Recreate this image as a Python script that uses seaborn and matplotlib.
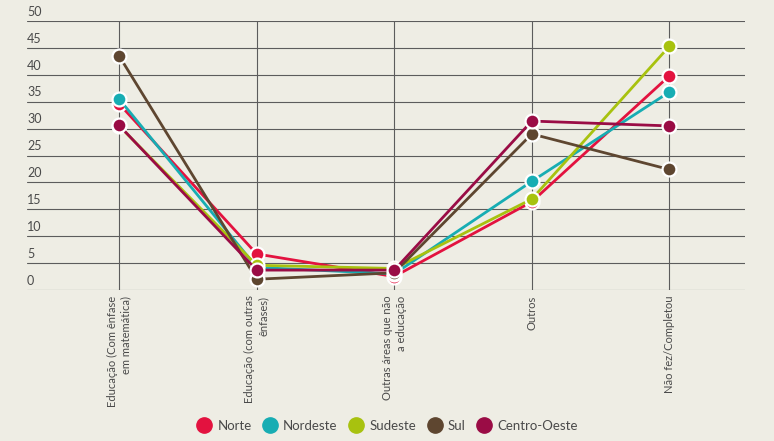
import pandas as pd
import matplotlib.pyplot as plt
from matplotlib.lines import Line2D
import seaborn as sns

# Data
categorias = ['Educação (Com ênfase\nem matemática)',
              'Educação (com outras\nênfases)',
              'Outras áreas que não\na educação',
              'Outros',
              'Não fez/Completou']
regioes = ['Norte', 'Nordeste', 'Sudeste', 'Sul', 'Centro-Oeste']

norte = [34.6, 6.7, 2.5, 16.4, 39.8]
nordeste = [35.5, 4.2, 3.0, 20.2, 36.8]
sudeste = [30.5, 4.6, 4.0, 16.9, 45.3]
sul = [43.5, 2.0, 3.2, 29.0, 22.4]
centro_oeste = [30.6, 3.7, 3.7, 31.4, 30.5]

cores = ['#e3123f', '#17adb3', '#a8c20f', '#5e4630', '#9a0c45']
y_ticks = list(range(0, 55, 5))

bg = '#eeede4'
grid = '#5c5c5c'
txt = '#4a4a4a'

sns.set_theme(style='white')
plt.rcParams['font.family'] = ['Lato', 'DejaVu Sans']

rows = []
for nome, vals in zip(regioes, [norte, nordeste, sudeste, sul, centro_oeste]):
    for i, v in enumerate(vals):
        rows.append({'pos': i, 'valor': v, 'regiao': nome})
df = pd.DataFrame(rows)

fig = plt.figure(figsize=(7.74, 4.41), dpi=100, facecolor=bg)
ax = fig.add_axes([27 / 774, 1 - 290 / 441, (745 - 27) / 774, (290 - 21) / 441])
ax.set_facecolor(bg)

# grid lines
for t in y_ticks:
    ax.axhline(t, color=grid, lw=0.8, zorder=0)
for i in range(len(categorias)):
    ax.axvline(i, color=grid, lw=0.8, zorder=0)

sns.lineplot(data=df, x='pos', y='valor', hue='regiao', hue_order=regioes,
             palette=cores, marker='o', markersize=10, markeredgecolor='white',
             markeredgewidth=1.6, linewidth=2, sort=False, legend=False,
             ax=ax, zorder=3)

ax.set_xlim(-0.67, 4.55)
ax.set_ylim(0, 50)
for s in ax.spines.values():
    s.set_visible(False)

ax.set_xticks(range(len(categorias)))
ax.set_xticklabels(categorias, rotation=90, va='top', ha='center',
                   multialignment='right', fontsize=8, color=txt,
                   linespacing=1.3)
ax.tick_params(axis='x', length=0, pad=4)
ax.set_yticks([])
ax.set_xlabel('')
ax.set_ylabel('')

# y labels sit above each grid line at the left
for t in y_ticks:
    ax.text(0.0, t + 0.6, str(t), transform=ax.get_yaxis_transform(),
            ha='left', va='bottom', fontsize=9, color=txt)

handles = [Line2D([], [], ls='none', marker='o', markersize=11,
                  markerfacecolor=c, markeredgecolor=c) for c in cores]
fig.legend(handles, regioes, loc='center', bbox_to_anchor=(0.5, 1 - 426 / 441),
           ncol=5, frameon=False, fontsize=9.5, handletextpad=0.4,
           columnspacing=0.8, handlelength=1.2, labelcolor=txt)

fig.savefig('out.png', dpi=100, facecolor=bg)
